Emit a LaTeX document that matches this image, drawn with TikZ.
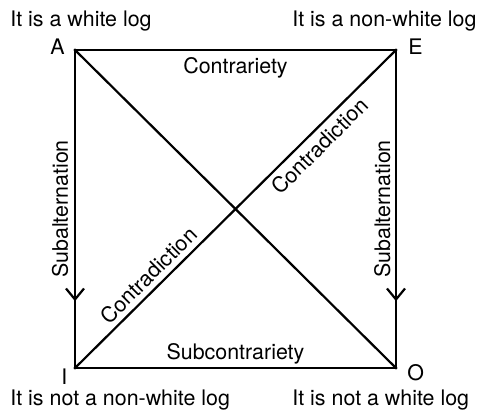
\documentclass[tikz,border=0pt]{standalone}
\usepackage{fontspec}
\setmainfont{TeX Gyre Heros}
\usepackage{tikz}
\usetikzlibrary{
	arrows.meta,
	positioning,
	calc,
	decorations.markings
}

\begin{document}
\begin{tikzpicture}[
		x=0.5pt,y=-0.5pt,
		font=\fontsize{10.7}{13}\selectfont,
		edge/.style={
			line width=1.1pt,
			line cap=rect
		},
		subalt/.style={
			edge,
			postaction={decorate},
			decoration={markings,
				mark=at position 0.79 with {\arrow[line width=1.1pt]{Straight Barb[length=5.5pt,width=9pt]}}}
		},
		relation/.style={
			inner sep=2pt
		},
		corner/.style={
			inner sep=0pt
		},
		caption/.style={
			inner sep=0pt,
			anchor=base west
		}
		]
		
		\useasboundingbox (0,0) rectangle (478,414);
		
		% Corners of the square
		\coordinate (A) at (75,50);
		\coordinate (E) at (396,50);
		\coordinate (I) at (75,368);
		\coordinate (O) at (396,368);
		
		% Relations
		\draw[edge] (A) -- node[relation,below=1pt] {Contrariety} (E);
		\draw[edge] (I) -- node[relation,above=0pt,inner sep=1.5pt] {Subcontrariety} (O);
		\draw[subalt] (A) -- (I);
		\draw[subalt] (E) -- (O);
		\draw[edge] (A) -- (O);
		\draw[edge] (I) -- node[relation,pos=0.26,sloped,above=0.5pt] {Contradiction}
			node[relation,pos=0.73,sloped,below=0.5pt] {Contradiction} (E);
		
		\node[rotate=90,anchor=base,inner sep=0pt] (subl) at ($(A)!0.5!(I)+(-7,0)$) {Subalternation};
		\node[rotate=90,anchor=base,inner sep=0pt] (subr) at ($(E)!0.5!(O)+(-6,0)$) {Subalternation};
		
		% Letters
		\node[corner,anchor=base east] (la) at (65,54) {A};
		\node[corner,anchor=base west] (le) at (408,54) {E};
		\node[corner,anchor=base west] (li) at (61,384) {I};
		\node[corner,anchor=base west] (lo) at (407,380) {O};
		
		% Propositions
		\node[caption] (pa) at (10,26) {It is a white log};
		\node[caption] (pe) at (292,26) {It is a non-white log};
		\node[caption] (pi) at (10,405) {It is not a non-white log};
		\node[caption] (po) at (292,405) {It is not a white log};
		
	\end{tikzpicture}
\end{document}
